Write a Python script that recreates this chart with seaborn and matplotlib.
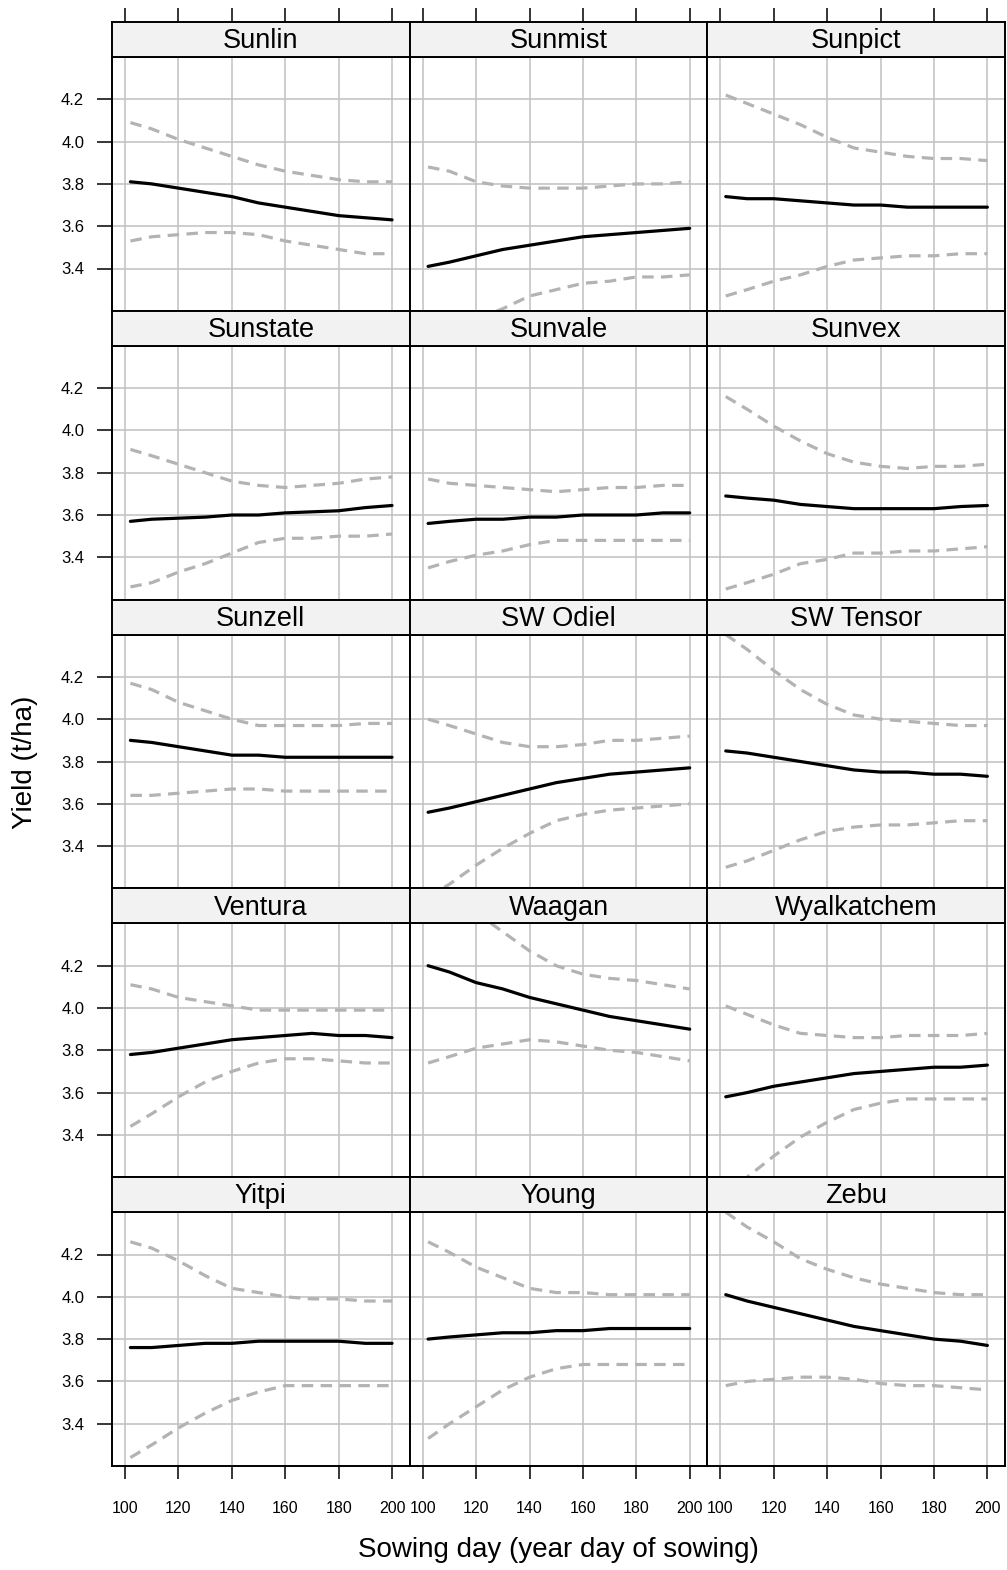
import numpy as np
import pandas as pd
import matplotlib
matplotlib.use("Agg")
import matplotlib.pyplot as plt
import seaborn as sns

# Variedades (orden de los paneles)
variedades = ["Sunlin", "Sunmist", "Sunpict",
              "Sunstate", "Sunvale", "Sunvex",
              "Sunzell", "SW Odiel", "SW Tensor",
              "Ventura", "Waagan", "Wyalkatchem",
              "Yitpi", "Young", "Zebu"]

dias = [102, 110, 120, 130, 140, 150, 160, 170, 180, 190, 200]

# Rendimiento ajustado (t/ha)
ajuste = {
    "Sunlin":      [3.81, 3.80, 3.78, 3.76, 3.74, 3.71, 3.69, 3.67, 3.65, 3.64, 3.63],
    "Sunmist":     [3.41, 3.43, 3.46, 3.49, 3.51, 3.53, 3.55, 3.56, 3.57, 3.58, 3.59],
    "Sunpict":     [3.74, 3.73, 3.73, 3.72, 3.71, 3.70, 3.70, 3.69, 3.69, 3.69, 3.69],
    "Sunstate":    [3.57, 3.58, 3.585, 3.59, 3.60, 3.60, 3.61, 3.615, 3.62, 3.635, 3.645],
    "Sunvale":     [3.56, 3.57, 3.58, 3.58, 3.59, 3.59, 3.60, 3.60, 3.60, 3.61, 3.61],
    "Sunvex":      [3.69, 3.68, 3.67, 3.65, 3.64, 3.63, 3.63, 3.63, 3.63, 3.64, 3.645],
    "Sunzell":     [3.90, 3.89, 3.87, 3.85, 3.83, 3.83, 3.82, 3.82, 3.82, 3.82, 3.82],
    "SW Odiel":    [3.56, 3.58, 3.61, 3.64, 3.67, 3.70, 3.72, 3.74, 3.75, 3.76, 3.77],
    "SW Tensor":   [3.85, 3.84, 3.82, 3.80, 3.78, 3.76, 3.75, 3.75, 3.74, 3.74, 3.73],
    "Ventura":     [3.78, 3.79, 3.81, 3.83, 3.85, 3.86, 3.87, 3.88, 3.87, 3.87, 3.86],
    "Waagan":      [4.20, 4.17, 4.12, 4.09, 4.05, 4.02, 3.99, 3.96, 3.94, 3.92, 3.90],
    "Wyalkatchem": [3.58, 3.60, 3.63, 3.65, 3.67, 3.69, 3.70, 3.71, 3.72, 3.72, 3.73],
    "Yitpi":       [3.76, 3.76, 3.77, 3.78, 3.78, 3.79, 3.79, 3.79, 3.79, 3.78, 3.78],
    "Young":       [3.80, 3.81, 3.82, 3.83, 3.83, 3.84, 3.84, 3.85, 3.85, 3.85, 3.85],
    "Zebu":        [4.01, 3.98, 3.95, 3.92, 3.89, 3.86, 3.84, 3.82, 3.80, 3.79, 3.77],
}

# Límite superior del intervalo
superior = {
    "Sunlin":      [4.09, 4.06, 4.01, 3.97, 3.93, 3.89, 3.86, 3.84, 3.82, 3.81, 3.81],
    "Sunmist":     [3.88, 3.86, 3.81, 3.79, 3.78, 3.78, 3.78, 3.79, 3.80, 3.80, 3.81],
    "Sunpict":     [4.22, 4.18, 4.13, 4.08, 4.02, 3.97, 3.95, 3.93, 3.92, 3.92, 3.91],
    "Sunstate":    [3.91, 3.88, 3.84, 3.80, 3.76, 3.74, 3.73, 3.74, 3.75, 3.77, 3.78],
    "Sunvale":     [3.77, 3.75, 3.74, 3.73, 3.72, 3.71, 3.72, 3.73, 3.73, 3.74, 3.74],
    "Sunvex":      [4.16, 4.10, 4.02, 3.95, 3.89, 3.85, 3.83, 3.82, 3.83, 3.83, 3.84],
    "Sunzell":     [4.17, 4.14, 4.08, 4.04, 4.00, 3.97, 3.97, 3.97, 3.97, 3.98, 3.98],
    "SW Odiel":    [4.00, 3.97, 3.93, 3.89, 3.87, 3.87, 3.88, 3.90, 3.90, 3.91, 3.92],
    "SW Tensor":   [4.40, 4.33, 4.23, 4.14, 4.07, 4.02, 4.00, 3.99, 3.98, 3.97, 3.97],
    "Ventura":     [4.11, 4.09, 4.05, 4.03, 4.01, 3.99, 3.99, 3.99, 3.99, 3.99, 3.99],
    "Waagan":      [4.60, 4.53, 4.45, 4.36, 4.27, 4.20, 4.16, 4.14, 4.13, 4.11, 4.09],
    "Wyalkatchem": [4.01, 3.97, 3.92, 3.88, 3.87, 3.86, 3.86, 3.87, 3.87, 3.87, 3.88],
    "Yitpi":       [4.26, 4.23, 4.17, 4.10, 4.04, 4.02, 4.00, 3.99, 3.99, 3.98, 3.98],
    "Young":       [4.26, 4.21, 4.14, 4.09, 4.04, 4.02, 4.02, 4.01, 4.01, 4.01, 4.01],
    "Zebu":        [4.40, 4.33, 4.26, 4.18, 4.13, 4.09, 4.06, 4.04, 4.02, 4.01, 4.01],
}

# Límite inferior del intervalo
inferior = {
    "Sunlin":      [3.53, 3.55, 3.56, 3.57, 3.57, 3.56, 3.53, 3.51, 3.49, 3.47, 3.47],
    "Sunmist":     [3.05, 3.10, 3.16, 3.21, 3.27, 3.30, 3.33, 3.34, 3.36, 3.36, 3.37],
    "Sunpict":     [3.27, 3.30, 3.34, 3.37, 3.41, 3.44, 3.45, 3.46, 3.46, 3.47, 3.47],
    "Sunstate":    [3.26, 3.28, 3.33, 3.37, 3.42, 3.47, 3.49, 3.49, 3.50, 3.50, 3.51],
    "Sunvale":     [3.35, 3.38, 3.41, 3.43, 3.46, 3.48, 3.48, 3.48, 3.48, 3.48, 3.48],
    "Sunvex":      [3.25, 3.28, 3.32, 3.37, 3.39, 3.42, 3.42, 3.43, 3.43, 3.44, 3.45],
    "Sunzell":     [3.64, 3.64, 3.65, 3.66, 3.67, 3.67, 3.66, 3.66, 3.66, 3.66, 3.66],
    "SW Odiel":    [3.16, 3.22, 3.31, 3.39, 3.46, 3.52, 3.55, 3.57, 3.58, 3.59, 3.60],
    "SW Tensor":   [3.30, 3.33, 3.38, 3.43, 3.47, 3.49, 3.50, 3.50, 3.51, 3.52, 3.52],
    "Ventura":     [3.44, 3.50, 3.58, 3.65, 3.70, 3.74, 3.76, 3.76, 3.75, 3.74, 3.74],
    "Waagan":      [3.74, 3.77, 3.81, 3.83, 3.85, 3.84, 3.82, 3.80, 3.79, 3.77, 3.75],
    "Wyalkatchem": [3.12, 3.20, 3.30, 3.39, 3.46, 3.52, 3.55, 3.57, 3.57, 3.57, 3.57],
    "Yitpi":       [3.24, 3.30, 3.38, 3.45, 3.51, 3.55, 3.58, 3.58, 3.58, 3.58, 3.58],
    "Young":       [3.33, 3.40, 3.48, 3.56, 3.62, 3.66, 3.68, 3.68, 3.68, 3.68, 3.68],
    "Zebu":        [3.58, 3.60, 3.61, 3.62, 3.62, 3.61, 3.59, 3.58, 3.58, 3.57, 3.56],
}

x_ticks = [100, 120, 140, 160, 180, 200]
y_ticks = [3.4, 3.6, 3.8, 4.0, 4.2]

# Tabla larga para seaborn
filas = []
for v in variedades:
    for serie, fuente in [("ajuste", ajuste), ("superior", superior), ("inferior", inferior)]:
        for d, y in zip(dias, fuente[v]):
            filas.append({"variedad": v, "serie": serie, "dia": d, "rendimiento": y})
data = pd.DataFrame(filas)

sns.set_style("white")
plt.rcParams["font.family"] = ["Liberation Sans", "DejaVu Sans"]
plt.rcParams["text.color"] = "black"
plt.rcParams["xtick.color"] = "black"
plt.rcParams["ytick.color"] = "black"
plt.rcParams["xtick.labelcolor"] = "black"
plt.rcParams["ytick.labelcolor"] = "black"

W, H = 1007, 1570
fig = plt.figure(figsize=(W / 100, H / 100), dpi=100)

izq, der = 112, 1005
arriba, abajo = 22, 1466
ancho = (der - izq) / 3
paso = (abajo - arriba) / 5
alto_tira = 35

colores = {"ajuste": "black", "superior": "#b3b3b3", "inferior": "#b3b3b3"}
trazos = {"ajuste": "", "superior": (3.6, 2.3), "inferior": (3.6, 2.3)}

for i, v in enumerate(variedades):
    fila, col = divmod(i, 3)
    x0 = izq + col * ancho
    y_tira = arriba + fila * paso
    y_panel = y_tira + alto_tira
    ax = fig.add_axes([x0 / W, 1 - (y_tira + paso) / H, ancho / W, (paso - alto_tira) / H])
    tira = fig.add_axes([x0 / W, 1 - y_panel / H, ancho / W, alto_tira / H])

    sub = data[data["variedad"] == v]
    sns.lineplot(data=sub, x="dia", y="rendimiento", hue="serie", style="serie",
                 palette=colores, dashes=trazos, linewidth=2.3, legend=False,
                 ax=ax, estimator=None)

    ax.set_xlim(95.1, 206.6)
    ax.set_ylim(3.2, 4.4)
    ax.set_xticks(x_ticks)
    ax.set_yticks(y_ticks)
    ax.grid(True, color="#c0c0c0", linewidth=1.1)
    ax.set_axisbelow(True)
    ax.set_xlabel("")
    ax.set_ylabel("")
    for s in ax.spines.values():
        s.set_color("black")
        s.set_linewidth(1.4)
    ax.tick_params(axis="x", bottom=(fila == 4), labelbottom=(fila == 4),
                   direction="out", length=9.5, width=1.1, pad=16, labelsize=11.5)
    ax.tick_params(axis="y", left=(col == 0), labelleft=(col == 0),
                   direction="out", length=11, width=1.1, pad=9, labelsize=12)

    # Tira con el nombre de la variedad
    tira.set_facecolor("#f2f2f2")
    tira.set_xlim(95.1, 206.6)
    tira.set_yticks([])
    tira.set_xticks(x_ticks)
    tira.tick_params(axis="x", bottom=False, labelbottom=False, top=(fila == 0),
                     labeltop=False, direction="out", length=10, width=1.1)
    for s in tira.spines.values():
        s.set_color("black")
        s.set_linewidth(1.4)
    tira.text(0.5, 0.45, v, transform=tira.transAxes, ha="center", va="center",
              fontsize=19.5, color="black")

fig.text(558 / W, 1 - 1550 / H, "Sowing day (year day of sowing)",
         ha="center", va="center", fontsize=20, color="black")
fig.text(25 / W, 1 - 762 / H, "Yield (t/ha)", rotation=90,
         ha="center", va="center", fontsize=20, color="black")

fig.savefig("out.png", dpi=100)
